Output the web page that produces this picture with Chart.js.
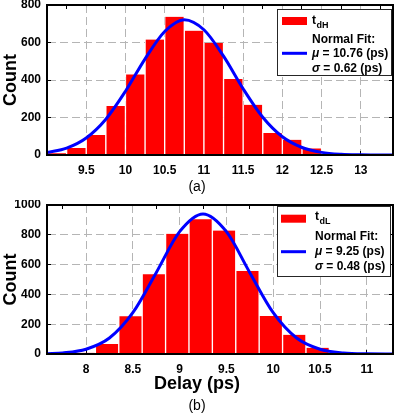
<!DOCTYPE html>
<html><head><meta charset="utf-8">
<script src="https://cdn.jsdelivr.net/npm/chart.js@4/dist/chart.umd.min.js"></script>
<style>
html,body{margin:0;padding:0;background:#fff;}
#wa{position:absolute;left:0;top:0;width:396px;height:200px;}
#wb{position:absolute;left:0;top:200px;width:396px;height:216px;}
canvas{display:block;}
</style></head><body>
<div id="wa"><canvas id="ca" width="396" height="200"></canvas></div>
<div id="wb"><canvas id="cb" width="396" height="216"></canvas></div>
<script>
// ---------- Panel (a): t_dH ----------
const binCentersA = [9.125, 9.375, 9.625, 9.875, 10.125, 10.375, 10.625, 10.875, 11.125, 11.375, 11.625, 11.875, 12.125, 12.375];
const countsA     = [10, 38, 107, 262, 430, 616, 737, 663, 598, 405, 268, 117, 81, 35];
const fitXA = [9.0, 9.25, 9.5, 9.75, 10.0, 10.25, 10.5, 10.75, 11.0, 11.25, 11.5, 11.75, 12.0, 12.25, 12.5, 12.75, 13.0, 13.25, 13.41];
const fitYA = [13, 37, 91, 191, 340, 513, 659, 722, 668, 527, 353, 201, 97, 40, 14, 4, 1, 0, 0];
const xTicksA = [9.5, 10, 10.5, 11, 11.5, 12, 12.5, 13];
const xTickLabelsA = ['9.5', '10', '10.5', '11', '11.5', '12', '12.5', '13'];
const yTicksA = [0, 200, 400, 600, 800];
const legendA = ['t', 'dH', 'Normal Fit:', 'μ', ' = 10.76 (ps)', 'σ', ' = 0.62 (ps)'];
const titlesA = ['Count', '(a)'];

// ---------- Panel (b): t_dL ----------
const binCentersB = [7.975, 8.225, 8.475, 8.725, 8.975, 9.225, 9.475, 9.725, 9.975, 10.225, 10.475];
const countsB     = [8, 67, 253, 535, 807, 904, 829, 557, 255, 129, 42];
const fitXB = [7.583, 7.75, 8.0, 8.25, 8.5, 8.75, 9.0, 9.25, 9.5, 9.75, 10.0, 10.25, 10.5, 10.75, 11.0, 11.28];
const fitYB = [2, 7, 32, 107, 277, 546, 821, 940, 821, 546, 277, 107, 32, 7, 1, 0];
const xTicksB = [8, 8.5, 9, 9.5, 10, 10.5, 11];
const xTickLabelsB = ['8', '8.5', '9', '9.5', '10', '10.5', '11'];
const yTicksB = [0, 200, 400, 600, 800, 1000];
const legendB = ['t', 'dL', 'Normal Fit:', 'μ', ' = 9.25 (ps)', 'σ', ' = 0.48 (ps)'];
const titlesB = ['Count', 'Delay (ps)', '(b)'];

const FAM = '"Liberation Sans", Arial, Helvetica, sans-serif';

function makePanel(canvasId, cfg) {
  function drawLegend(chart) {
    const ctx = chart.ctx, L = cfg.legendBox, T = cfg.legendText;
    ctx.save();
    ctx.setLineDash([]);
    ctx.fillStyle = '#fff';
    ctx.fillRect(L.x, L.y, L.w, L.h);
    ctx.strokeStyle = '#262626'; ctx.lineWidth = 1;
    ctx.strokeRect(L.x + 0.5, L.y + 0.5, L.w, L.h);
    ctx.fillStyle = '#ff0000';
    ctx.fillRect(L.sx, L.swY - 4, 25, 8);
    ctx.strokeStyle = '#0000ff'; ctx.lineWidth = 3;
    ctx.beginPath(); ctx.moveTo(L.sx, L.muY); ctx.lineTo(L.sx + 25, L.muY); ctx.stroke();
    ctx.fillStyle = '#000';
    ctx.textBaseline = 'alphabetic'; ctx.textAlign = 'left';
    ctx.font = 'bold 12px ' + FAM;
    ctx.fillText(T[0], L.tx, L.tBase);
    const tw = ctx.measureText(T[0]).width;
    ctx.font = 'bold 9px ' + FAM;
    ctx.fillText(T[1], L.tx + tw + 0.5, L.tBase + 4);
    ctx.textBaseline = 'middle';
    ctx.font = 'bold 12px ' + FAM;
    ctx.fillText(T[2], L.tx, L.nfY);
    ctx.font = 'italic bold 12px ' + FAM;
    ctx.fillText(T[3], L.tx, L.muY);
    let w = ctx.measureText(T[3]).width;
    ctx.font = 'bold 12px ' + FAM;
    ctx.fillText(T[4], L.tx + w, L.muY);
    ctx.font = 'italic bold 12px ' + FAM;
    ctx.fillText(T[5], L.tx, L.sgY);
    w = ctx.measureText(T[5]).width;
    ctx.font = 'bold 12px ' + FAM;
    ctx.fillText(T[6], L.tx + w, L.sgY);
    ctx.textAlign = 'center';
    cfg.xTitles.forEach(t => {
      ctx.font = t.font;
      ctx.fillText(t.text, t.x, t.y);
    });
    ctx.restore();
  }
  const overlayPlugin = { id: 'legendOverlay', afterDraw(chart) { drawLegend(chart); } };

  const tickFont = { family: FAM, size: 12, weight: 'bold' };
  const boxBorder = { display: true, color: '#000000', width: 2, z: 1, dash: [8, 4] };
  const inwardGrid = { display: true, drawOnChartArea: false, drawTicks: true, tickLength: -4,
                       tickColor: '#000000', tickWidth: 1, tickBorderDash: [] };
  // axes box outline built from the axis limits
  const boxPts = [
    { x: cfg.xMin, y: 0 }, { x: cfg.xMin, y: cfg.yMax }, { x: cfg.xMax, y: cfg.yMax },
    { x: cfg.xMax, y: 0 }, { x: cfg.xMin, y: 0 }
  ];
  return new Chart(document.getElementById(canvasId), {
    type: 'bar',
    data: {
      datasets: [
        {
          type: 'line', xAxisID: 'x', yAxisID: 'y',
          data: boxPts,
          borderColor: '#000000', borderWidth: 2, pointRadius: 0, tension: 0,
          cubicInterpolationMode: 'default', fill: false, clip: false, order: -1
        },
        {
          type: 'line', xAxisID: 'x', yAxisID: 'y',
          data: cfg.fitX.map((x, i) => ({ x: x, y: cfg.fitY[i] })),
          borderColor: '#0000ff', borderWidth: 3, pointRadius: 0,
          cubicInterpolationMode: 'monotone', fill: false, order: 0
        },
        {
          type: 'bar', xAxisID: 'x', yAxisID: 'y',
          data: cfg.bins.map((x, i) => ({ x: x, y: cfg.counts[i] })),
          backgroundColor: '#ff0000', borderColor: '#ffffff',
          borderWidth: { left: 1, right: 1, top: 0, bottom: 0 },
          borderSkipped: false, barPercentage: 1, categoryPercentage: 1, grouped: false, order: 1
        }
      ]
    },
    options: {
      responsive: false, animation: false, devicePixelRatio: 1,
      layout: { padding: { left: 0, right: 3, top: 5, bottom: 0 } },
      plugins: { legend: { display: false }, tooltip: { enabled: false } },
      scales: {
        x: {
          type: 'linear', position: 'bottom', offset: false, min: cfg.xMin, max: cfg.xMax,
          afterBuildTicks: s => { s.ticks = cfg.xTicks.map(v => ({ value: v })); },
          afterFit: s => { s.height = cfg.xAxisH; s.paddingLeft = 0; s.paddingRight = 0; },
          ticks: { autoSkip: false, maxRotation: 0, padding: 12, color: '#000', font: tickFont,
            callback: (v) => { const i = cfg.xTicks.indexOf(v); return i >= 0 ? cfg.xTickLabels[i] : ''; } },
          grid: { color: '#b5b5b5', lineWidth: 1, drawTicks: true, tickLength: -4,
                  tickColor: '#000000', tickWidth: 1, tickBorderDash: [], offset: false },
          border: boxBorder
        },
        x2: {
          type: 'linear', position: 'top', offset: false, min: cfg.xMin, max: cfg.xMax,
          afterBuildTicks: s => { s.ticks = cfg.xTicks.map(v => ({ value: v })); },
          afterFit: s => { s.height = 0; s.paddingLeft = 0; s.paddingRight = 0; },
          ticks: { display: false },
          grid: inwardGrid,
          border: boxBorder
        },
        y: {
          position: 'left', min: 0, max: cfg.yMax,
          afterBuildTicks: s => { s.ticks = cfg.yTicks.map(v => ({ value: v })); },
          afterFit: s => { s.width = 47; s.paddingTop = 0; s.paddingBottom = 0; },
          ticks: { padding: 10, color: '#000', font: tickFont, callback: v => String(v) },
          grid: { color: '#b5b5b5', lineWidth: 1, drawTicks: true, tickLength: -4,
                  tickColor: '#000000', tickWidth: 1, tickBorderDash: [] },
          border: boxBorder,
          title: { display: true, text: cfg.yTitle, color: '#000', padding: { top: 0, bottom: 0 },
                   font: { family: FAM, size: 18, weight: 'bold' } }
        },
        y2: {
          position: 'right', min: 0, max: cfg.yMax,
          afterBuildTicks: s => { s.ticks = cfg.yTicks.map(v => ({ value: v })); },
          afterFit: s => { s.width = 0; s.paddingTop = 0; s.paddingBottom = 0; },
          ticks: { display: false },
          grid: inwardGrid,
          border: boxBorder
        }
      }
    },
    plugins: [overlayPlugin]
  });
}

makePanel('ca', {
  bins: binCentersA, counts: countsA, fitX: fitXA, fitY: fitYA,
  xMin: 9.0, xMax: 13.41, xTicks: xTicksA, xTickLabels: xTickLabelsA,
  yMax: 800, yTicks: yTicksA, xAxisH: 45, yTitle: titlesA[0],
  legendBox: { x: 277, y: 9, w: 114, h: 66, sx: 282, swY: 21, tx: 312, tBase: 23.5, nfY: 40, muY: 53.3, sgY: 68.3 },
  legendText: legendA,
  xTitles: [{ text: titlesA[1], x: 197, y: 187, font: '14px ' + FAM }]
});

makePanel('cb', {
  bins: binCentersB, counts: countsB, fitX: fitXB, fitY: fitYB,
  xMin: 7.583, xMax: 11.28, xTicks: xTicksB, xTickLabels: xTickLabelsB,
  yMax: 1000, yTicks: yTicksB, xAxisH: 62, yTitle: titlesB[0],
  legendBox: { x: 277, y: 6, w: 113, h: 70, sx: 281, swY: 18.7, tx: 315, tBase: 20, nfY: 37, muY: 51.7, sgY: 66.7 },
  legendText: legendB,
  xTitles: [{ text: titlesB[1], x: 197, y: 184, font: 'bold 18px ' + FAM },
            { text: titlesB[2], x: 197, y: 206, font: '14px ' + FAM }]
});
</script>
</body></html>
